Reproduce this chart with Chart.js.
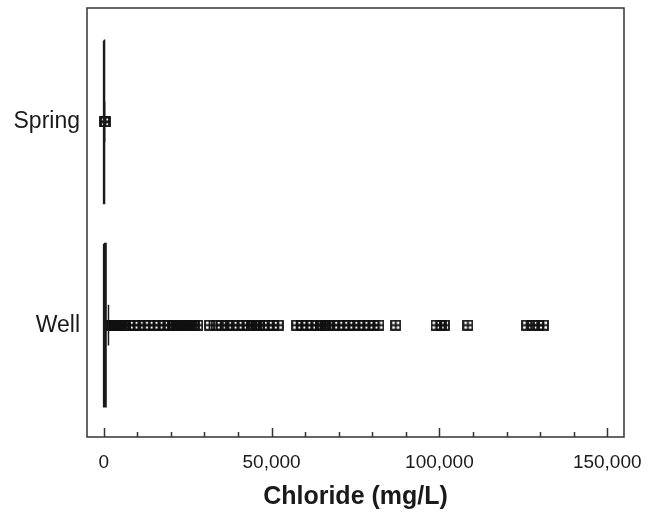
<!DOCTYPE html>
<html>
<head>
<meta charset="utf-8">
<script src="https://cdn.jsdelivr.net/npm/chart.js@4.4.0/dist/chart.umd.min.js"></script>
<style>
    body { margin: 0; background: #fff; }
    #grafica { display: block; }
</style>
</head>
<body>
<canvas id="grafica" width="657" height="518"></canvas>
<script>
// datos (mg/L)
const categorias = ['Spring', 'Well'];
const q1 = [20, 30];
const mediana = [60, 150];
const q3 = [150, 600];
const bigoteInf = [0, 0];
const bigoteSup = [250, 1400];

const atipicosSpring = [200, 500];
const atipicosWell = [
    2000, 2300, 2600, 2900, 3200, 3500, 3900, 4300, 4700, 5200, 5800, 6400,
    7600, 9000, 10500, 12200, 13500, 15000, 16400, 18000,
    19500, 20500, 21000, 21600, 22200, 22800, 23400, 24000, 24600, 25300, 26000, 27000, 28000,
    31500, 33500, 35000, 36800, 38500, 40000, 41500, 43000, 44000, 44800, 45500, 46500,
    47500, 49000, 50500, 52000,
    57500, 59000, 60500, 62000, 63500, 64500, 65200, 66000, 66800, 68500, 70000, 71500,
    73000, 74500, 76000, 77500, 79000, 80500, 82000,
    87000, 99000, 100500, 101500, 108500, 126000, 127800, 129500, 131000
];

const ticksX = [0, 10000, 20000, 30000, 40000, 50000, 60000, 70000,
    80000, 90000, 100000, 110000, 120000, 130000, 140000, 150000];
const etiquetasX = [0, 50000, 100000, 150000];

const colorTinta = '#1a1a1a';
const mitadCaja = 0.4;
const mitadTope = 0.1;
const fuente = 'Liberation Sans, Arial, sans-serif';

// marcador cuadrado con cruz
function crearMarcador() {
    const c = document.createElement('canvas');
    c.width = 11; c.height = 11;
    const g = c.getContext('2d');
    g.strokeStyle = '#111';
    g.lineWidth = 1.8;
    g.strokeRect(1, 1, 9, 9);
    g.beginPath();
    g.moveTo(5.5, 1); g.lineTo(5.5, 10);
    g.moveTo(1, 5.5); g.lineTo(10, 5.5);
    g.stroke();
    return c;
}
const marcador = crearMarcador();

// cajas, medianas y bigotes como segmentos
const puntosCaja = [];
const puntosBigote = [];
categorias.forEach((cat, i) => {
    puntosCaja.push(
        {x: q1[i], y: i - mitadCaja}, {x: q3[i], y: i - mitadCaja},
        {x: q3[i], y: i + mitadCaja}, {x: q1[i], y: i + mitadCaja},
        {x: q1[i], y: i - mitadCaja}, {x: q1[i], y: null},
        {x: mediana[i], y: i - mitadCaja}, {x: mediana[i], y: i + mitadCaja},
        {x: mediana[i], y: null}
    );
    puntosBigote.push(
        {x: bigoteInf[i], y: i}, {x: q1[i], y: i}, {x: q1[i], y: null},
        {x: q3[i], y: i}, {x: bigoteSup[i], y: i}, {x: bigoteSup[i], y: null},
        {x: bigoteInf[i], y: i - mitadTope}, {x: bigoteInf[i], y: i + mitadTope}, {x: bigoteInf[i], y: null},
        {x: bigoteSup[i], y: i - mitadTope}, {x: bigoteSup[i], y: i + mitadTope}, {x: bigoteSup[i], y: null}
    );
});

const puntosAtipicos = [
    ...atipicosSpring.map(v => ({x: v, y: 0})),
    ...atipicosWell.map(v => ({x: v, y: 1}))
];

const marcoYTicks = {
    id: 'marcoYTicks',
    afterDraw(chart) {
        const {ctx, chartArea: a, scales: {x}} = chart;
        ctx.save();
        ctx.strokeStyle = '#333';
        ctx.lineWidth = 1.5;
        ctx.strokeRect(a.left, a.top, a.right - a.left, a.bottom - a.top);
        ticksX.forEach(v => {
            const px = Math.round(x.getPixelForValue(v)) + 0.5;
            const largo = etiquetasX.includes(v) ? 9 : 5;
            ctx.beginPath();
            ctx.moveTo(px, a.bottom);
            ctx.lineTo(px, a.bottom - largo);
            ctx.stroke();
        });
        ctx.restore();
    }
};

new Chart(document.getElementById('grafica'), {
    type: 'scatter',
    data: {
        datasets: [
            {
                data: puntosCaja,
                showLine: true,
                spanGaps: false,
                borderColor: colorTinta,
                borderWidth: 2,
                pointRadius: 0
            },
            {
                data: puntosBigote,
                showLine: true,
                spanGaps: false,
                borderColor: colorTinta,
                borderWidth: 1.5,
                pointRadius: 0
            },
            {
                data: puntosAtipicos,
                showLine: false,
                pointStyle: marcador,
                pointRadius: 5.5
            }
        ]
    },
    options: {
        responsive: false,
        animation: false,
        devicePixelRatio: 1,
        layout: { padding: { left: 0, top: 8, right: 33, bottom: 0 } },
        plugins: { legend: { display: false }, tooltip: { enabled: false } },
        scales: {
            x: {
                type: 'linear',
                min: -5000,
                max: 155000,
                grid: { display: false, drawTicks: false },
                border: { display: false },
                afterBuildTicks: eje => { eje.ticks = ticksX.map(v => ({value: v})); },
                afterFit: eje => { eje.height = 81; },
                ticks: {
                    autoSkip: false,
                    maxRotation: 0,
                    padding: 14,
                    color: colorTinta,
                    font: { family: fuente, size: 19 },
                    callback: v => etiquetasX.includes(v) ? v.toLocaleString('en-US') : ''
                },
                title: {
                    display: true,
                    text: 'Chloride (mg/L)',
                    color: colorTinta,
                    font: { family: fuente, size: 25, weight: 'bold' },
                    padding: { top: 4, bottom: 6 }
                }
            },
            y: {
                type: 'linear',
                reverse: true,
                min: -0.56,
                max: 1.55,
                grid: { display: false, drawTicks: false },
                border: { display: false },
                afterBuildTicks: eje => { eje.ticks = categorias.map((c, i) => ({value: i})); },
                afterFit: eje => {
                    eje.width = 87;
                    eje.paddingTop = 0;
                    eje.paddingBottom = 0;
                },
                ticks: {
                    padding: 7,
                    color: colorTinta,
                    font: { family: fuente, size: 23 },
                    callback: v => categorias[v]
                }
            }
        }
    },
    plugins: [marcoYTicks]
});
</script>
</body>
</html>
